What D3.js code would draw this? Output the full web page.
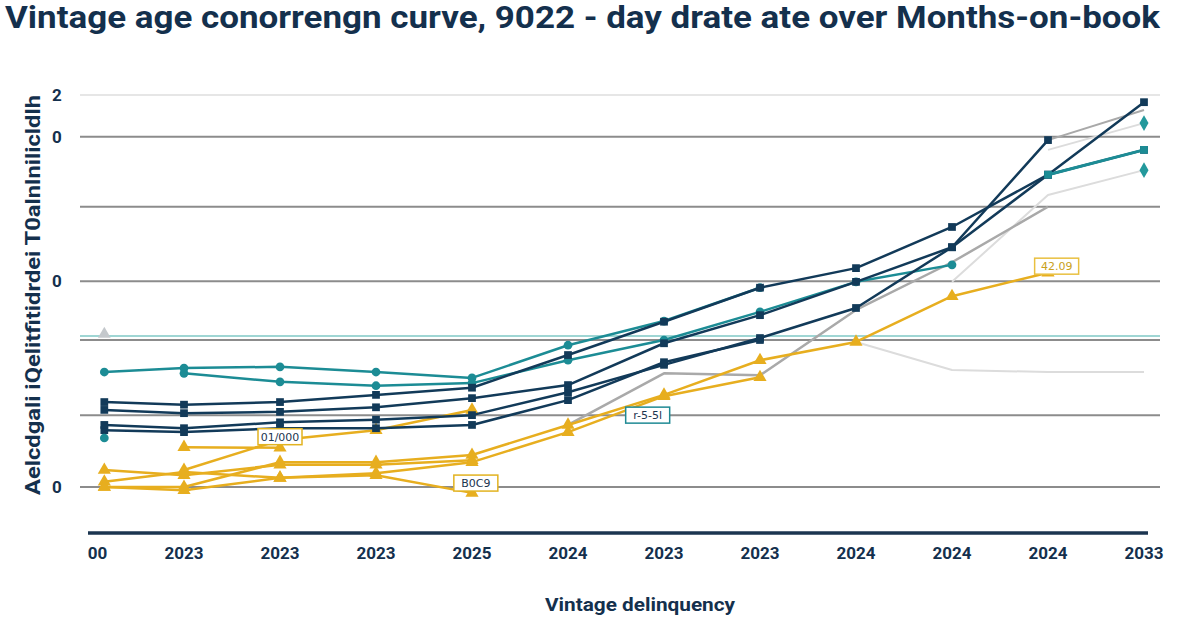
<!DOCTYPE html>
<html>
<head>
<meta charset="utf-8">
<script src="https://cdn.jsdelivr.net/npm/d3@7"></script>
<style>
body{margin:0;background:#fff}
svg{display:block}
</style>
</head>
<body>
<svg id="chart" width="1200" height="630"></svg>
<script>
// months on book (x) and tick labels
const mob = [0.17,1,2,3,4,5,6,7,8,9,10,11]
const xTicks = [0.1,1,2,3,4,5,6,7,8,9,10,11]
const xLabels = ['00','2023','2023','2023','2025','2024','2023','2023','2024','2024','2024','2033']

const yGrid = [0,1.10,2.25,3.15,4.29,5.36,6]
const yTicks = [0,3.15,5.36,6]
const yLabels = ['0','0','0','2']

// delinquency rate by vintage
const navy1 = [1.30,1.26,1.30,1.41,1.52,2.02,2.53,3.05,3.35,3.98,4.78,5.89]
const navy2 = [1.18,1.13,1.15,1.22,1.36,1.56,2.20,2.63,3.14,3.67,4.78,5.16]
const navy3 = [0.95,0.90,0.99,1.03,1.10,1.45,1.87,2.28,2.74,3.67,5.31,null]
const navy4 = [0.87,0.84,0.90,0.90,0.95,1.33,1.91,2.25,null,null,null,null]
const teal1 = [1.76,1.82,1.84,1.76,1.67,2.17,2.54,3.05,null,null,null,null]
const teal2 = [null,1.74,1.61,1.55,1.59,1.94,2.25,2.68,3.14,3.40,null,null]
const teal3 = [null,null,null,null,null,null,null,null,null,null,4.78,5.16]
const teal4 = [0.75,null,null,null,null,null,null,null,null,null,null,null]
const gold1 = [0,0,0.38,0.38,0.49,0.95,1.41,1.94,2.22,2.92,3.28,null]
const gold2 = [0.08,0.23,0.14,0.21,0.38,0.84,1.39,1.68,null,null,null,null]
const gold3 = [null,0.26,0.72,0.87,1.18,null,null,null,null,null,null,null]
const gold4 = [0.26,0.18,0.34,0.34,0.41,null,null,null,null,null,null,null]
const gold5 = [0,-0.05,0.14,0.18,-0.09,null,null,null,null,null,null,null]
const gold6 = [null,0.61,0.60,null,null,null,null,null,null,null,null,null]
const grayMid = [null,null,null,null,null,0.95,1.74,1.71,2.71,3.44,4.29,null]
const grayTop = [null,null,null,null,null,null,null,null,null,null,5.31,5.77]
const lgray1 = [null,null,null,null,null,null,null,null,2.22,1.79,1.76,1.76]
const lgray2 = [null,null,null,null,null,null,null,null,null,3.14,4.47,4.85]
const lgray3 = [null,null,null,null,null,null,null,null,null,null,5.16,5.57]

const benchTeal = 2.31

const notes = [
	{x:2.0, v:0.77, t:'01/000', c:'#e2b320', tc:'#1b3550'},
	{x:4.04, v:0.06, t:'B0C9', c:'#e2b320', tc:'#1b3550'},
	{x:5.83, v:1.10, t:'r-5-5l', c:'#1f8a94', tc:'#1b3550'},
	{x:10.09, v:3.38, t:'42.09', c:'#e9c040', tc:'#c9a020'}
]

const NAVY = '#123a59', TEAL = '#1c8c95', GOLD = '#e7ae1f', GRAY = '#a9a9a9', LGRAY = '#dcdcdc'

const svg = d3.select('#chart')
	.attr('font-family','Roboto, "Open Sans", sans-serif')

const x = d3.scaleLinear().domain([0,11]).range([88,1144])
const y = d3.scaleLinear().domain([0,6]).range([487,95])

// title
svg.append('text')
	.attr('x',5).attr('y',28)
	.attr('font-size',31).attr('font-weight',700)
	.attr('fill','#14304d')
	.attr('textLength',1155).attr('lengthAdjust','spacingAndGlyphs')
	.text('Vintage age conorrengn curve,  9022 - day drate ate over Months-on-book')

// grid
svg.append('g').selectAll('line')
	.data(yGrid)
	.enter().append('line')
	.attr('x1',80).attr('x2',1160)
	.attr('y1',d=>y(d)).attr('y2',d=>y(d))
	.attr('stroke',d=>d==6 ? '#e6e6e6' : '#8c8c8c')
	.attr('stroke-width',2)

// benchmark line
svg.append('line')
	.attr('x1',80).attr('x2',1160)
	.attr('y1',y(benchTeal)).attr('y2',y(benchTeal))
	.attr('stroke','#9fd6d4').attr('stroke-width',2)

svg.append('path')
	.attr('d',d3.symbol(d3.symbolTriangle,70)())
	.attr('transform',`translate(${x(mob[0])},${y(benchTeal)-2})`)
	.attr('fill','#c4c8cc')

// y ticks
svg.append('g').selectAll('text')
	.data(yTicks)
	.enter().append('text')
	.attr('x',57).attr('y',d=>y(d)).attr('dy','0.35em')
	.attr('text-anchor','middle')
	.attr('font-size',17).attr('font-weight',700)
	.attr('fill','#14304d')
	.text((d,i)=>yLabels[i])

// y title
svg.append('text')
	.attr('transform','translate(40,295) rotate(-90)')
	.attr('text-anchor','middle')
	.attr('font-size',20).attr('font-weight',700)
	.attr('fill','#14304d')
	.attr('textLength',400).attr('lengthAdjust','spacingAndGlyphs')
	.text('Aelcdgali iQelitfitidrdei T0alnlnilicldlh')

// x axis
svg.append('line')
	.attr('x1',88).attr('x2',1148)
	.attr('y1',533).attr('y2',533)
	.attr('stroke','#1b3550').attr('stroke-width',3.5)

svg.append('g').selectAll('text')
	.data(xTicks)
	.enter().append('text')
	.attr('x',d=>x(d)).attr('y',559)
	.attr('text-anchor','middle')
	.attr('font-size',17).attr('font-weight',700)
	.attr('fill','#14304d')
	.text((d,i)=>xLabels[i])

svg.append('text')
	.attr('x',640).attr('y',611)
	.attr('text-anchor','middle')
	.attr('font-size',18).attr('font-weight',700)
	.attr('fill','#14304d')
	.attr('textLength',190).attr('lengthAdjust','spacingAndGlyphs')
	.text('Vintage delinquency')

// series
const series = [
	{v:lgray1, c:LGRAY, w:2, m:null},
	{v:lgray2, c:LGRAY, w:2, m:null},
	{v:lgray3, c:LGRAY, w:2, m:null},
	{v:grayTop, c:GRAY, w:2, m:null},
	{v:grayMid, c:GRAY, w:2.5, m:null},
	{v:gold6, c:GOLD, w:2.5, m:d3.symbolTriangle},
	{v:gold5, c:GOLD, w:2.5, m:d3.symbolTriangle},
	{v:gold4, c:GOLD, w:2.5, m:d3.symbolTriangle},
	{v:gold3, c:GOLD, w:2.5, m:d3.symbolTriangle},
	{v:gold2, c:GOLD, w:2.5, m:d3.symbolTriangle},
	{v:gold1, c:GOLD, w:2.5, m:d3.symbolTriangle},
	{v:teal1, c:TEAL, w:2.5, m:d3.symbolCircle},
	{v:teal2, c:TEAL, w:2.5, m:d3.symbolCircle},
	{v:navy4, c:NAVY, w:2.5, m:d3.symbolSquare},
	{v:navy3, c:NAVY, w:2.5, m:d3.symbolSquare},
	{v:navy2, c:NAVY, w:2.5, m:d3.symbolSquare},
	{v:navy1, c:NAVY, w:2.5, m:d3.symbolSquare},
	{v:teal3, c:TEAL, w:3, m:d3.symbolSquare},
	{v:teal4, c:TEAL, w:2.5, m:d3.symbolCircle}
]

const line = d3.line()
	.defined(d=>d[1] != null)
	.x(d=>x(d[0]))
	.y(d=>y(d[1]))

const lines = svg.append('g')

series.forEach(s=>{
	const pts = s.v.map((d,i)=>[mob[i],d])
	lines.append('path')
		.attr('d',line(pts))
		.attr('fill','none')
		.attr('stroke',s.c)
		.attr('stroke-width',s.w)
		.attr('stroke-linejoin','round')
	if(s.m){
		lines.append('g').selectAll('path')
			.data(pts.filter(p=>p[1] != null))
			.enter().append('path')
			.attr('d',d3.symbol(s.m,s.m==d3.symbolTriangle ? 75 : 60)())
			.attr('transform',d=>`translate(${x(d[0])},${y(d[1])})`)
			.attr('fill',s.c)
	}
})

// teal diamonds at end of light gray lines
lines.append('g').selectAll('path')
	.data([lgray2,lgray3])
	.enter().append('path')
	.attr('d',d3.symbol(d3.symbolDiamond,70)())
	.attr('transform',d=>`translate(${x(mob[11])},${y(d[11])})`)
	.attr('fill','#23999c')

// annotation boxes
const nb = svg.append('g').selectAll('g')
	.data(notes)
	.enter().append('g')
	.attr('transform',d=>`translate(${x(d.x)},${y(d.v)})`)

nb.append('rect')
	.attr('x',-22).attr('y',-8)
	.attr('width',44).attr('height',16)
	.attr('fill','#fff')
	.attr('stroke',d=>d.c).attr('stroke-width',1.5)

nb.append('text')
	.attr('text-anchor','middle').attr('dy','0.35em')
	.attr('font-size',11)
	.attr('font-family','"DejaVu Sans", sans-serif')
	.attr('fill',d=>d.tc)
	.text(d=>d.t)
</script>
</body>
</html>
